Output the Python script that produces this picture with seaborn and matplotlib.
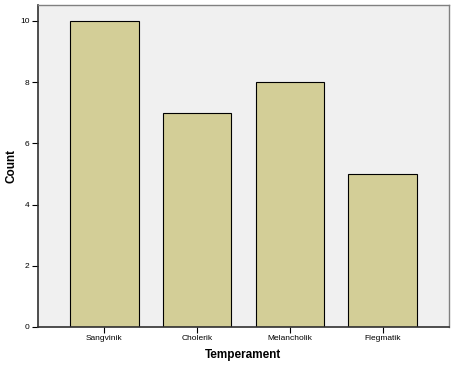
import matplotlib
matplotlib.use("Agg")
import matplotlib.pyplot as plt
import pandas as pd
import seaborn as sns

# Temperament counts
temperaments = ['Sangvinik', 'Cholerik', 'Melancholik', 'Flegmatik']
counts = [10, 7, 8, 5]

sns.set_style("white")
plt.rcParams['font.family'] = ['Arial', 'Liberation Sans', 'DejaVu Sans']
plt.rcParams['text.color'] = 'black'
plt.rcParams['axes.labelcolor'] = 'black'
plt.rcParams['xtick.color'] = 'black'
plt.rcParams['ytick.color'] = 'black'

df = pd.DataFrame({'Temperament': temperaments, 'Count': counts})

fig = plt.figure(figsize=(4.56, 3.66), dpi=100)
ax = fig.add_axes([0.0833, 0.1066, 0.9013, 0.8797])
ax.set_facecolor('#f0f0f0')

sns.barplot(data=df, x='Temperament', y='Count', color='#d3ce97', saturation=1,
            width=0.74, edgecolor='black', linewidth=0.8, ax=ax)

ax.set_xlim(-0.715, 3.715)
ax.set_ylim(0, 10.52)
ax.set_yticks([0, 2, 4, 6, 8, 10])

for side in ['top', 'right']:
    ax.spines[side].set_color('#808080')
    ax.spines[side].set_linewidth(1.0)
for side in ['left', 'bottom']:
    ax.spines[side].set_color('#303030')
    ax.spines[side].set_linewidth(1.2)

ax.tick_params(axis='both', direction='out', length=4, width=0.8, labelsize=6,
               bottom=True, left=True, pad=2)
ax.set_xlabel('Temperament', fontsize=8.5, fontweight='bold', labelpad=5)
ax.set_ylabel('Count', fontsize=8.5, fontweight='bold')
ax.yaxis.set_label_coords(-0.05, 0.5)

fig.savefig('out.png', dpi=100)
